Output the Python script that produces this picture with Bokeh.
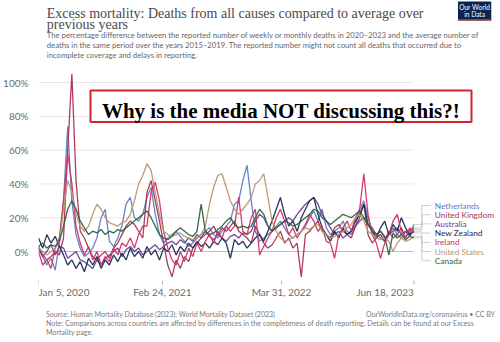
import pandas as pd
from bokeh.plotting import figure
from bokeh.layouts import column
from bokeh.models import (Label, BoxAnnotation, FixedTicker, Range1d, ColumnDataSource)
from bokeh.embed import file_html
from bokeh.resources import INLINE

# ---------------- data (biweekly, % excess deaths) ----------------
dates = pd.date_range("2020-01-05", periods=91, freq="14D")

netherlands = [
    2, -3, -8, -4, -11, 5, 30, 74, 30, 10,
    2, -3, -1, 2, 8, 20, 25, 6, 3, 8,
    15, 28, 32, 20, 18, 22, 32, 38, 22, 10,
    5, 8, 10, 12, 9, 6, 3, 5, 8, 10,
    12, 14, 10, 8, 12, 15, 18, 28, 30, 42,
    51, 30, 12, 6, 8, 10, 12, 15, 18, 14,
    10, 8, 10, 12, 15, 20, 24, 18, 25, 14,
    10, 12, 14, 18, 12, 10, 15, 25, 30, 20,
    12, 10, 8, 6, 10, 14, 10, 8, 12, 10,
    16]
united_kingdom = [
    3, -2, -5, -3, 0, -2, 8, 60, 105, 42,
    12, 8, 2, -3, -5, -2, 0, -4, 2, 5,
    10, 15, 18, 16, 12, 8, 35, 42, 30, 18,
    5, -8, -15, -5, -10, -3, -6, 2, 5, 8,
    10, 12, 15, 10, 14, 12, 15, 18, 12, 10,
    8, 5, 15, 10, 5, 2, 4, 8, 12, 5,
    8, 2, 5, -15, 10, 12, 15, 18, 12, 10,
    8, 14, 16, 12, 10, 8, 15, 20, 28, 10,
    5, 8, 10, 6, 12, 8, 10, 14, 8, 12,
    14]
australia = [
    2, -3, 0, 4, -2, 3, 2, -4, -2, 0,
    -5, -6, -8, -10, -5, -8, -4, -2, 0, 2,
    -3, 1, 3, 0, 2, -2, 0, 2, 4, 1,
    3, 5, 6, 4, 7, 5, 8, 6, 10, 8,
    12, 9, 7, 10, 8, 6, 9, 10, 8, 11,
    10, 12, 18, 22, 20, 15, 12, 14, 16, 18,
    20, 18, 22, 25, 28, 30, 32, 28, 22, 18,
    14, 10, 12, 8, 10, 12, 15, 18, 20, 16,
    14, 10, 12, 8, 10, 12, 14, 10, 12, 9,
    13]
new_zealand = [
    8, 2, 10, 5, 9, 3, -2, -8, -5, -10,
    -6, -12, -4, -8, -3, -10, -5, -8, -2, -6,
    -1, -5, 2, -3, 0, -4, 3, -2, 1, -5,
    2, 0, 4, -2, 3, 0, 5, 2, 6, 3,
    5, 2, 6, 4, 8, 5, -4, 7, 4, 6,
    2, 5, 8, 10, 6, 12, 18, 25, 32, 22,
    15, 18, 12, 20, 25, 30, 32, 22, 14, 10,
    6, 12, 8, 14, 10, 12, 18, 22, 28, 16,
    12, 8, 14, 18, 10, 16, 12, 20, 14, 10,
    12]
ireland = [
    0, -8, -5, -10, 2, 8, 30, 58, 40, 15,
    5, -2, 3, -5, 0, -8, -3, -6, 2, -2,
    5, 3, 8, 2, 10, 15, 15, 35, 41, 30,
    12, 2, -5, -8, 0, -6, 2, -3, 5, 0,
    6, 10, 5, 12, 8, 15, 12, 15, 32, 12,
    10, 20, 25, -2, 3, 8, 12, 20, 25, 18,
    10, 14, 8, 12, 16, 22, 18, 12, 15, 6,
    5, -4, 10, 14, 18, 12, 20, 25, 46, 22,
    10, 5, -4, 5, 10, 18, 22, 12, 8, 14,
    11]
united_states = [
    2, 0, -2, 0, 2, 5, 25, 42, 35, 22,
    15, 12, 15, 22, 28, 25, 20, 17, 16, 15,
    17, 18, 22, 30, 40, 45, 52, 48, 35, 22,
    12, 10, 9, 10, 11, 9, 8, 7, 8, 10,
    15, 28, 38, 45, 46, 38, 30, 25, 22, 25,
    28, 32, 40, 42, 46, 32, 18, 12, 8, 6,
    7, 8, 10, 12, 14, 13, 15, 16, 12, 10,
    8, 9, 10, 12, 14, 16, 20, 22, 18, 12,
    10, 8, 7, 8, 6, 0, 5, 8, 6, 7,
    9]
canada = [
    3, 5, 2, 4, 3, 6, 15, 25, 30, 25,
    18, 14, 10, 12, 11, 13, 10, 12, 11, 13,
    12, 14, 16, 18, 20, 22, 24, 20, 15, 10,
    8, 7, 9, 12, 14, 12, 10, 9, 12, 28,
    12, 10, 11, 13, 15, 18, 20, 16, 14, 15,
    14, 15, 20, 25, 22, 15, 12, 14, 16, 18,
    17, 15, 16, 18, 20, 22, 25, 24, 20, 18,
    16, 18, 20, 22, 21, 20, 22, 24, 20, 16,
    12, 10, 12, 9, -2, 11, 8, 10, 7, 9,
    8]

countries = ["Netherlands", "United Kingdom", "Australia", "New Zealand",
             "Ireland", "United States", "Canada"]
series = [netherlands, united_kingdom, australia, new_zealand,
          ireland, united_states, canada]
colors = ["#5A7FC2", "#A8334F", "#6D3E91", "#1B2B50",
          "#D0306E", "#B8976D", "#2F5E3C"]

y_ticks = [0, 20, 40, 60, 80, 100]
x_tick_dates = ["2020-01-05", "2021-02-24", "2022-03-31", "2023-06-18"]
x_tick_labels = ["Jan 5, 2020", "Feb 24, 2021", "Mar 31, 2022", "Jun 18, 2023"]

for s in series:
    assert len(s) == len(dates)

# ---------------- layout ----------------
W = 500
HEAD_H, MAIN_H, FOOT_H = 64, 236, 42
MAIN_TOP = HEAD_H                       # canvas y where main figure starts
FL, FR = 36, 500                        # frame left/right (canvas px)
FT, FB = 68, MAIN_TOP + MAIN_H          # frame top/bottom (canvas px)
PX_PER_DAY = 377 / 1260                 # from tick spacing in the picture
x_start = pd.Timestamp("2020-01-05")
x_end = x_start + pd.Timedelta(days=(FR - FL) / PX_PER_DAY)
PX_PER_PCT = 1.69
ZERO_Y = 251
y_lo = -(FB - ZERO_Y) / PX_PER_PCT
y_hi = (ZERO_Y - FT) / PX_PER_PCT
FONT = "Lato"
SERIF = "Liberation Serif"
GREY = "#6b6b6b"

def px_to_ms(px):
    return (x_start + pd.Timedelta(days=(px - FL) / PX_PER_DAY)).value // 10**6

def cy_to_val(cy):
    return (ZERO_Y - cy) / PX_PER_PCT

def style(fig):
    fig.outline_line_color = None
    fig.background_fill_color = "white"
    fig.border_fill_color = "white"

def htxt(fig, x, y, s, size, color, font=FONT, align="left", baseline="middle", fstyle="normal"):
    fig.add_layout(Label(x=x, y=y, text=s, text_font=font, text_font_size=size,
                         text_color=color, text_align=align, text_baseline=baseline,
                         text_font_style=fstyle))

# ---------------- header ----------------
head = figure(width=W, height=HEAD_H, output_backend="svg", toolbar_location=None,
              title=None, x_range=Range1d(0, W), y_range=Range1d(HEAD_H, 0),
              x_axis_location=None, y_axis_location=None, min_border=0)
style(head)
head.grid.visible = False

htxt(head, 9, 12.5, "Excess mortality: Deaths from all causes compared to average over",
     "14px", "#4a4a4a", font=SERIF, baseline="alphabetic")
htxt(head, 9, 24, "previous years", "14px", "#4a4a4a", font=SERIF, baseline="alphabetic")
sub = ["The percentage difference between the reported number of weekly or monthly deaths in 2020\u20132023 and the average number of",
       "deaths in the same period over the years 2015\u20132019. The reported number might not count all deaths that occurred due to",
       "incomplete coverage and delays in reporting."]
for k, line in enumerate(sub):
    htxt(head, 9, 34.5 + 10.2 * k, line, "7.7px", "#666666")
head.add_layout(BoxAnnotation(left=454, right=490, top=1, bottom=20,
                              fill_color="#0b2350", fill_alpha=1, line_color=None))
head.add_layout(BoxAnnotation(left=454, right=490, top=18.5, bottom=20,
                              fill_color="#ce261e", fill_alpha=1, line_color=None))
htxt(head, 472, 6.8, "Our World", "6.6px", "white", align="center")
htxt(head, 472, 13.6, "in Data", "6.6px", "white", align="center")

# ---------------- main chart ----------------
p = figure(width=W, height=MAIN_H, x_axis_type="datetime", output_backend="svg",
           toolbar_location=None, title=None, x_axis_location=None,
           x_range=Range1d(x_start, x_end), y_range=Range1d(y_lo, y_hi),
           min_border_left=FL, min_border_right=W - FR,
           min_border_top=FT - MAIN_TOP, min_border_bottom=0)
style(p)

p.yaxis.ticker = FixedTicker(ticks=y_ticks)
p.yaxis.major_label_overrides = {t: f"{t}%" for t in y_ticks}
p.yaxis.axis_line_color = None
p.yaxis.major_tick_line_color = None
p.yaxis.minor_tick_line_color = None
p.yaxis.major_label_standoff = 4
p.yaxis.major_label_text_font = FONT
p.yaxis.major_label_text_font_size = "10px"
p.yaxis.major_label_text_color = GREY

# grid lines only across the data span
p.grid.visible = False
grid_end = px_to_ms(413)
start_ms = x_start.value // 10**6
gy = [t for t in y_ticks if t != 0]
p.segment(x0=[start_ms] * len(gy), y0=gy, x1=[grid_end] * len(gy), y1=gy,
          line_color="#e8e8e8", line_width=1)
p.segment(x0=[start_ms], y0=[0], x1=[grid_end], y1=[0], line_color="#bdbdbd", line_width=1)

# time axis: tick marks and labels placed at the tick dates
ms = [pd.Timestamp(d).value // 10**6 for d in x_tick_dates]
p.segment(x0=ms, y0=[cy_to_val(280)] * len(ms), x1=ms, y1=[cy_to_val(284)] * len(ms),
          line_color="#b5b5b5", line_width=1)
aligns = ["left", "center", "center", "right"]
for m, lab, al in zip(ms, x_tick_labels, aligns):
    p.add_layout(Label(x=m, y=cy_to_val(291), text=lab, text_align=al,
                       text_baseline="middle", text_font=FONT, text_font_size="10px",
                       text_color=GREY))

# lines
for name, vals, col in zip(countries, series, colors):
    src = ColumnDataSource(dict(x=dates, y=vals))
    p.line("x", "y", source=src, line_color=col, line_width=1.3, line_alpha=0.95)

# right-hand labels with connectors
label_cy = [205, 214.2, 223.4, 232.6, 241.8, 251, 260.2]
x_mid = px_to_ms(421)
x_lab_line = px_to_ms(430)
x_lab = px_to_ms(434)
last_ms = dates[-1].value // 10**6
cx, cyy = [], []
for vals, ly in zip(series, label_cy):
    lv = cy_to_val(ly)
    cx.append([last_ms, x_mid, x_mid, x_lab_line])
    cyy.append([vals[-1], vals[-1], lv, lv])
p.multi_line(cx, cyy, line_color="#c4c4c4", line_width=0.8)
for name, col, ly in zip(countries, colors, label_cy):
    p.add_layout(Label(x=x_lab, y=cy_to_val(ly), text=name, text_color=col, text_font=FONT,
                       text_font_size="8.3px", text_baseline="middle"))

# red annotation box (screen units relative to frame bottom-left)
def sx(x):
    return x - FL
def sy(y):
    return FB - y
p.add_layout(BoxAnnotation(left=sx(88), right=sx(469), top=sy(90), bottom=sy(121.5),
                           left_units="screen", right_units="screen",
                           top_units="screen", bottom_units="screen",
                           fill_color="white", fill_alpha=1,
                           line_color="#d0252f", line_width=2, line_alpha=1))
p.add_layout(Label(x=sx(278.5), y=sy(110), x_units="screen", y_units="screen",
                   text="Why is the media NOT discussing this?!", text_font=SERIF,
                   text_font_size="21px", text_font_style="bold", text_color="#000000",
                   text_align="center", text_baseline="alphabetic"))

# ---------------- footer ----------------
foot_top = MAIN_TOP + MAIN_H
foot = figure(width=W, height=FOOT_H, output_backend="svg", toolbar_location=None,
              title=None, x_range=Range1d(0, W), y_range=Range1d(foot_top + FOOT_H, foot_top),
              x_axis_location=None, y_axis_location=None, min_border=0)
style(foot)
foot.grid.visible = False
FC = "#7a7a7a"
htxt(foot, 8, 313, "Source: Human Mortality Database (2023); World Mortality Dataset (2023)", "7px", FC)
htxt(foot, 494, 313, "OurWorldInData.org/coronavirus \u2022 CC BY", "7px", FC, align="right")
htxt(foot, 8, 323, "Note: Comparisons across countries are affected by differences in the completeness of death reporting. Details can be found at our Excess",
     "7.1px", FC)
htxt(foot, 8, 332, "Mortality page.", "7.1px", FC)

layout = column(head, p, foot, spacing=0)
open("out.html", "w").write(file_html(layout, INLINE))
